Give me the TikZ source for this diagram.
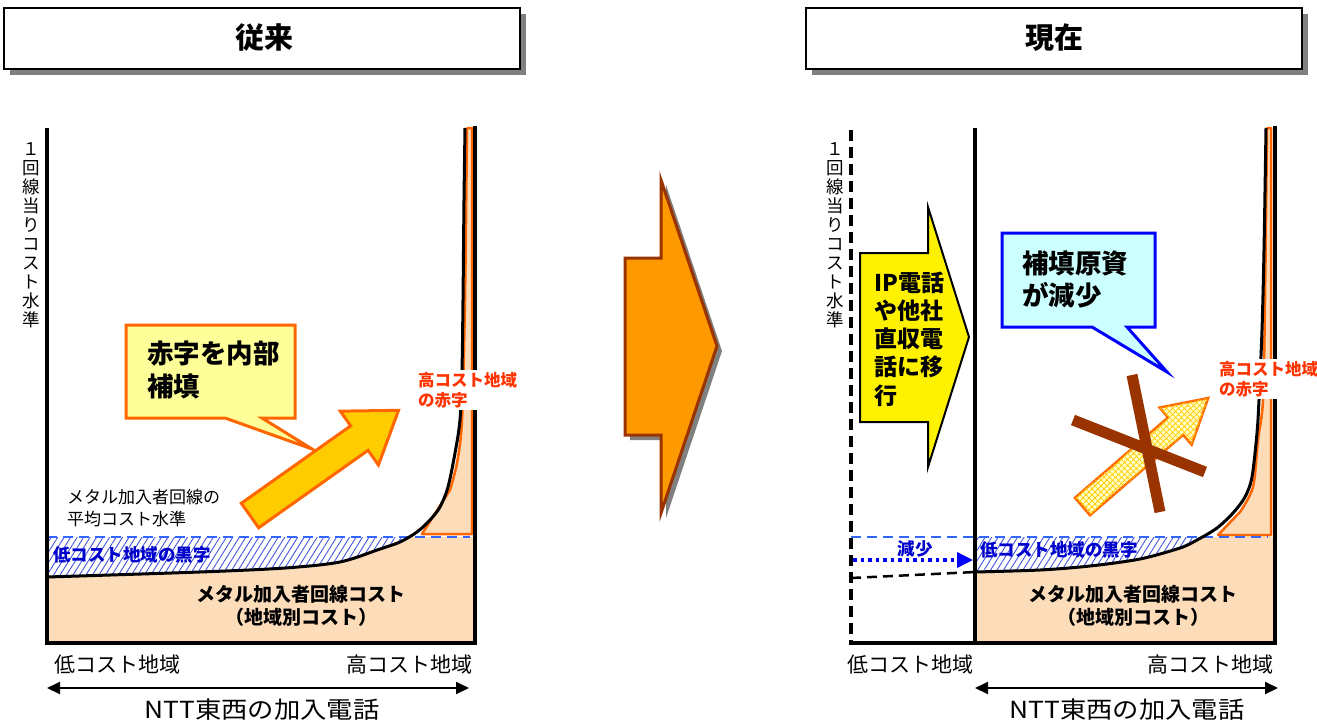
\documentclass[tikz,border=0pt]{standalone}
\usepackage{fontspec}
\setmainfont{Noto Sans CJK JP}
\usetikzlibrary{arrows.meta,patterns.meta}
\definecolor{peach}{HTML}{FDDCBA}
\definecolor{orangeline}{HTML}{FF6600}
\definecolor{redtxt}{HTML}{FF3300}
\definecolor{bluetxt}{HTML}{0000CC}
\definecolor{dashblue}{HTML}{3366FF}
\definecolor{hatchblue}{HTML}{4455DD}
\definecolor{calloutyellow}{HTML}{FFFF99}
\definecolor{arrowgold}{HTML}{FFCC00}
\definecolor{midorange}{HTML}{FF9900}
\definecolor{brownx}{HTML}{993300}
\definecolor{callcyan}{HTML}{CCFFFF}
\definecolor{shadowgray}{HTML}{808080}
\definecolor{paleyellow}{HTML}{FFFFCC}
\tikzset{
  axisline/.style={line width=3.5pt, line cap=rect},
  costcurve/.style={line width=3pt, line join=round},
  bluedash/.style={draw=dashblue, line width=2.8pt, dash pattern=on 10pt off 6pt},
  redlbl/.style={text=redtxt, fill=white, font=\fontsize{16.5}{20}\selectfont\bfseries, align=left, inner sep=2pt, anchor=north west},
  bluelbl/.style={text=bluetxt, font=\fontsize{17.5}{20}\selectfont\bfseries, inner sep=0pt},
  costlbl/.style={font=\fontsize{19}{22.5}\selectfont\bfseries, align=center, inner sep=0pt},
  normlbl/.style={font=\fontsize{21}{24}\selectfont, inner sep=0pt},
  axislbl/.style={font=\fontsize{17.5}{19}\selectfont, align=center, inner sep=0pt},
  titletxt/.style={font=\fontsize{29}{32}\selectfont\bfseries, inner sep=0pt},
  titlebox/.style={draw=black, fill=white, line width=2.5pt},
  redzone/.style={draw=orangeline, fill=peach, line width=2.5pt, line join=round},
  hatchfill/.style={pattern={Lines[angle=58,distance=5.5pt,line width=0.9pt]}, pattern color=hatchblue},
  dblarrow/.style={line width=2pt, {Triangle[length=13pt,width=12pt]}-{Triangle[length=13pt,width=12pt]}},
  brownbar/.style={draw=brownx, line width=11pt},
  ntttxt/.style={font=\fontsize{23.5}{26}\selectfont, inner sep=0pt},
}
\begin{document}
\begin{tikzpicture}[x=1pt,y=-1pt]
\useasboundingbox (0,0) rectangle (1317,723);

% ---------------- titles
\fill[shadowgray] (10,14) rectangle (526,75);
\draw[titlebox] (4,8) rectangle (520,69);
\node[titletxt] (t1) at (264,38) {従来};
\fill[shadowgray] (812,14) rectangle (1308,75);
\draw[titlebox] (806,8) rectangle (1302,69);
\node[titletxt] (t2) at (1054,38) {現在};

% ================= LEFT CHART
\begin{scope}
\clip (47,537) rectangle (475,643);
\fill[peach] plot[smooth,tension=0.5] coordinates {(47,577) (200,572) (285,568) (340,562) (380,549) (400,542) (417,532) (430,520) (440,507) (448,487) (455,453) (460,420) (462,370) (463,300) (464,200) (465,128)} -- (475,128) -- (475,643) -- (47,643) -- cycle;
\fill[hatchfill] plot[smooth,tension=0.5] coordinates {(47,577) (200,572) (285,568) (340,562) (380,549) (400,542) (417,532) (430,520) (440,507) (448,487) (455,453) (460,420) (462,370) (463,300) (464,200) (465,128)} -- (47,128) -- cycle;
\end{scope}
\draw[redzone] (422,534) -- plot[smooth,tension=0.5] coordinates {(450,490) (457,463) (462,420) (465,300) (467,128)} -- (472,128) -- (472,534) -- cycle;
\draw[bluedash] (47,537) -- (470,537);
\draw[costcurve] plot[smooth,tension=0.5] coordinates {(47,577) (200,572) (285,568) (340,562) (380,549) (400,542) (417,532) (430,520) (440,507) (448,487) (455,453) (460,420) (462,370) (463,300) (464,200) (465,128)};
\draw[axisline] (47,130) -- (47,643) -- (475,643) -- (475,128);

\node[axislbl] (ylabL) at (31,235) {１\\回\\線\\当\\り\\コ\\ス\\ト\\水\\準};
\node[redlbl] (redL) at (416,370) {高コスト地域\\の赤字};
\node[bluelbl, anchor=west] (blackL) at (53,555) {低コスト地域の黒字};
\node[costlbl] (costL) at (301,606) {メタル加入者回線コスト\\（地域別コスト）};
\node[font=\fontsize{17}{22}\selectfont, align=left, inner sep=0pt, anchor=west] (avgL) at (67,508) {メタル加入者回線の\\平均コスト水準};

% callout
\draw[draw=orangeline, fill=calloutyellow, line width=3pt, line join=miter] (126,325) -- (295,325) -- (295,418) -- (262,418) -- (312,449) -- (225,418) -- (126,418) -- cycle;
\node[font=\fontsize{26.5}{33}\selectfont\bfseries, align=left, inner sep=0pt, anchor=west] (callL) at (147,369.5) {赤字を内部\\補填};

% big arrow
\begin{scope}[shift={(250,515.5)}, rotate=35.3]
\draw[draw=orangeline, fill=arrowgold, line width=3pt, line join=miter] (0,-15) -- (134,-15) -- (134,-33) -- (182,0) -- (134,33) -- (134,15) -- (0,15) -- cycle;
\end{scope}

\node[normlbl, anchor=west] (lowL) at (54,664) {低コスト地域};
\node[normlbl, anchor=east] (highL) at (473,664) {高コスト地域};
\coordinate (aL1) at (47,688);
\coordinate (aL2) at (469,688);
\draw[dblarrow] (aL1) -- (aL2);
\node[ntttxt] (nttL) at (262,710) {\scalebox{1.12}[1]{NTT東西の加入電話}};

% ================= MIDDLE ARROW
\fill[shadowgray] (630,263) -- (666,263) -- (666,185) -- (722,351) -- (666,518) -- (666,440) -- (630,440) -- cycle;
\draw[draw=brownx, fill=midorange, line width=3pt, line join=miter] (625,258) -- (661,258) -- (661,180) -- (717,346) -- (661,513) -- (661,435) -- (625,435) -- cycle;

% ================= RIGHT CHART
\begin{scope}
\clip (975,537) rectangle (1275,643);
\fill[peach] plot[smooth,tension=0.5] coordinates {(975,572) (1040,570) (1090,566) (1140,559) (1180,548) (1197,540) (1217,528) (1233,513) (1245,497) (1252,477) (1257,433) (1259,400) (1262,330) (1264,250) (1266,128)} -- (1275,128) -- (1275,643) -- (975,643) -- cycle;
\fill[hatchfill] plot[smooth,tension=0.5] coordinates {(975,572) (1040,570) (1090,566) (1140,559) (1180,548) (1197,540) (1217,528) (1233,513) (1245,497) (1252,477) (1257,433) (1259,400) (1262,330) (1264,250) (1266,128)} -- (975,128) -- cycle;
\end{scope}
\draw[redzone] (1218,535) -- plot[smooth,tension=0.5] coordinates {(1240,512) (1253,487) (1258,440) (1263,400) (1265,300) (1267,128)} -- (1271,128) -- (1271,535) -- cycle;
\draw[bluedash] (851,537) -- (1268,537);
\draw[costcurve] plot[smooth,tension=0.5] coordinates {(975,572) (1040,570) (1090,566) (1140,559) (1180,548) (1197,540) (1217,528) (1233,513) (1245,497) (1252,477) (1257,433) (1259,400) (1262,330) (1264,250) (1266,128)};
\draw[line width=2.5pt, dash pattern=on 10pt off 6pt] (851,578) -- (975,572);
\draw[line width=3.5pt, dash pattern=on 11pt off 6pt] (851,130) -- (851,643);
\draw[axisline] (851,643) -- (1275,643) -- (1275,128);
\draw[axisline] (975,130) -- (975,643);

% dotted decrease arrow
\coordinate (dA1) at (853,560);
\coordinate (dA2) at (973,560);
\draw[draw=blue, line width=3.5pt, dash pattern=on 3.5pt off 4pt, -{Triangle[length=16pt,width=15pt]}] (dA1) -- (dA2);
\node[bluelbl] (decR) at (915,549) {減少};
\node[bluelbl, anchor=west] (blackR) at (980,550) {低コスト地域の黒字};
\node[costlbl] (costR) at (1133,606) {メタル加入者回線コスト\\（地域別コスト）};

\node[axislbl] (ylabR) at (835,235) {１\\回\\線\\当\\り\\コ\\ス\\ト\\水\\準};

% IP arrow
\draw[draw=black, fill=yellow, line width=2pt, line join=miter] (860,253) -- (928,253) -- (928,207) -- (969,337) -- (928,467) -- (928,422) -- (860,422) -- cycle;
\node[font=\fontsize{23}{28.3}\selectfont\bfseries, align=left, inner sep=0pt, anchor=west] (ipR) at (874,339) {IP電話\\や他社\\直収電\\話に移\\行};

% cyan callout
\draw[draw=blue, fill=callcyan, line width=3pt, line join=miter] (1002,233) -- (1155,233) -- (1155,327) -- (1127,327) -- (1167,372) -- (1092,327) -- (1002,327) -- cycle;
\node[font=\fontsize{26.5}{32}\selectfont\bfseries, align=left, inner sep=0pt, anchor=west] (callR) at (1022,279) {補填原資\\が減少};

% patterned arrow
\begin{scope}[shift={(1082.5,506.5)}, rotate=40.8]
\draw[draw=orangeline, fill=paleyellow, line width=2.5pt, line join=miter,
  postaction={pattern={Lines[angle=45,distance=4pt,line width=1.1pt]}, pattern color=arrowgold},
  postaction={pattern={Lines[angle=-45,distance=4pt,line width=1.1pt]}, pattern color=arrowgold}]
  (0,-11.5) -- (123,-11.5) -- (123,-24.5) -- (166,0) -- (123,24.5) -- (123,11.5) -- (0,11.5) -- cycle;
\end{scope}
\draw[brownbar] (1132,375) -- (1160,512);
\draw[brownbar] (1073,420) -- (1205,472);

\node[redlbl] (redR) at (1217,359) {高コスト地域\\の赤字};

\node[normlbl, anchor=west] (lowR) at (847,664) {低コスト地域};
\node[normlbl, anchor=east] (highR) at (1274,664) {高コスト地域};
\coordinate (aR1) at (975,688);
\coordinate (aR2) at (1278,688);
\draw[dblarrow] (aR1) -- (aR2);
\node[ntttxt] (nttR) at (1127,710) {\scalebox{1.12}[1]{NTT東西の加入電話}};
\end{tikzpicture}
\end{document}
